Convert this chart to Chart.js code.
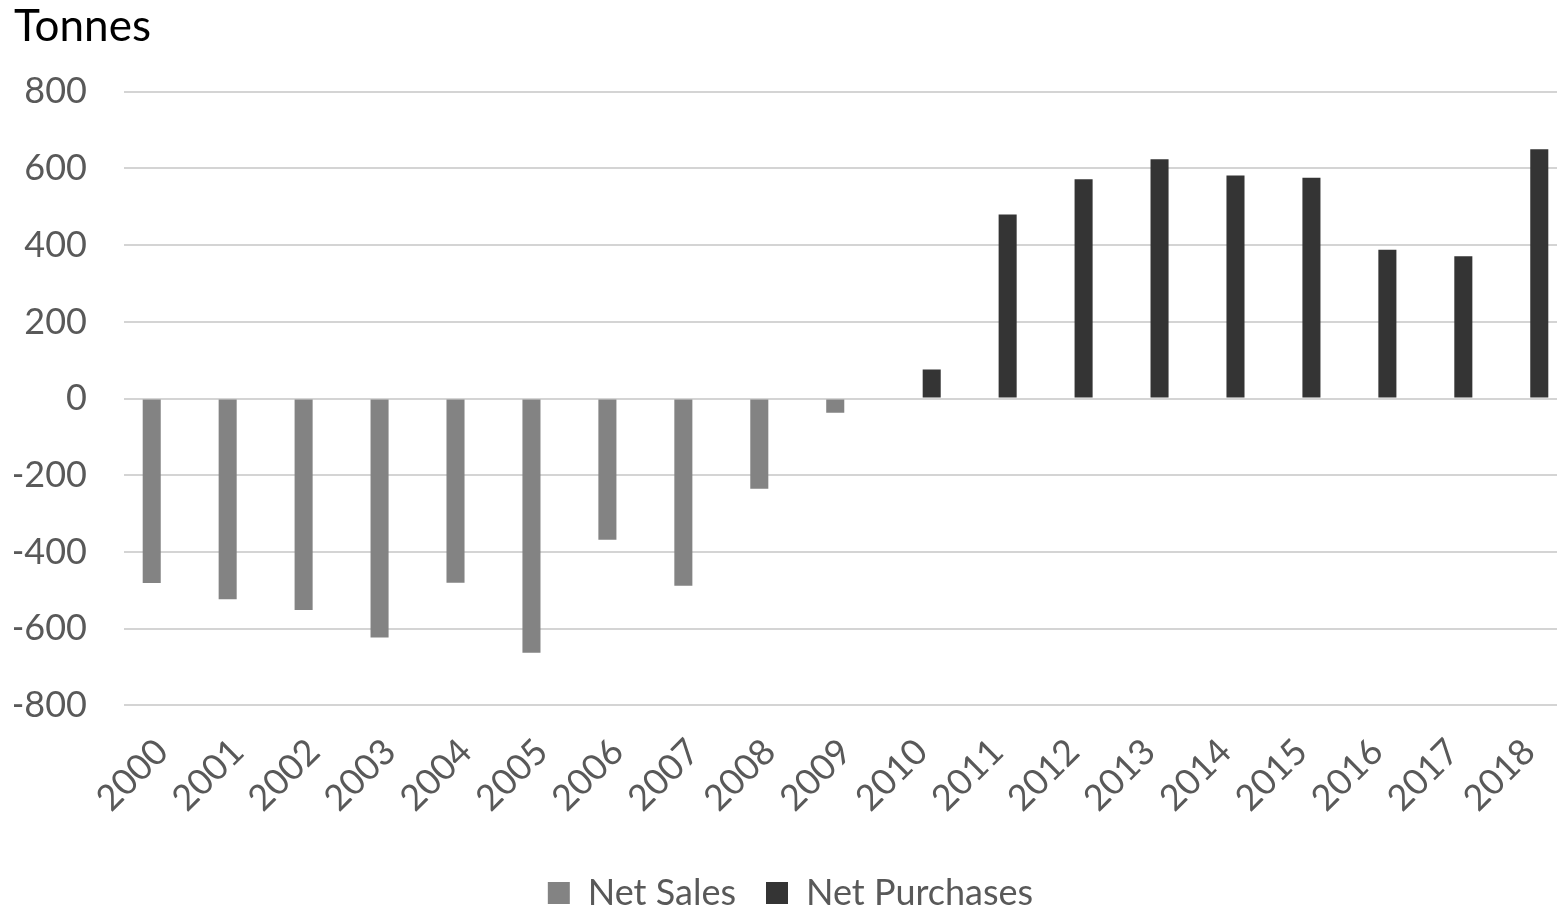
<!DOCTYPE html>
<html>
<head>
<meta charset="utf-8">
<script src="https://cdn.jsdelivr.net/npm/chart.js@4/dist/chart.umd.min.js"></script>
<style>
  html, body { margin: 0; padding: 0; background: #fff; overflow: hidden; }
  #wrap { width: 1567px; height: 910px; }
</style>
</head>
<body>
<div id="wrap"><canvas id="c" width="1567" height="910"></canvas></div>
<script>
// Annual net central-bank gold flows, tonnes
const years = ['2000','2001','2002','2003','2004','2005','2006','2007','2008','2009',
               '2010','2011','2012','2013','2014','2015','2016','2017','2018'];
const netSales = [-481, -523, -551, -623, -480, -663, -368, -488, -235, -37,
                  null, null, null, null, null, null, null, null, null];
const netPurchases = [null, null, null, null, null, null, null, null, null, null,
                      76, 480, 572, 624, 582, 576, 388, 371, 650];
const yTicks = [-800, -600, -400, -200, 0, 200, 400, 600, 800];

const FONT = 'Lato, "Open Sans", sans-serif';

new Chart(document.getElementById('c'), {
  type: 'bar',
  data: {
    labels: years,
    datasets: [
      { label: 'Net Sales', data: netSales, backgroundColor: '#838383',
        categoryPercentage: 0.54, barPercentage: 0.88 },
      { label: 'Net Purchases', data: netPurchases, backgroundColor: '#343434',
        categoryPercentage: 0.54, barPercentage: 0.88 }
    ]
  },
  options: {
    responsive: false,
    animation: false,
    layout: { padding: { left: 14, right: 0, top: 0, bottom: -11 } },
    plugins: {
      tooltip: { enabled: false },
      title: {
        display: true,
        text: 'Tonnes',
        align: 'start',
        color: '#000',
        font: { family: FONT, size: 44, weight: 'normal' },
        padding: { top: 0, bottom: 39 }
      },
      legend: {
        position: 'bottom',
        labels: {
          color: '#595959',
          font: { family: FONT, size: 36 },
          boxWidth: 22,
          boxHeight: 22,
          padding: 30
        }
      }
    },
    scales: {
      x: {
        grid: { display: false, drawTicks: false },
        border: { display: false },
        // rotated labels stay inside the plot width, no side padding needed
        afterFit: (s) => { s.paddingLeft = 0; s.paddingRight = 0; },
        ticks: {
          color: '#595959',
          font: { family: FONT, size: 36 },
          maxRotation: 45, minRotation: 45,
          padding: 25,
          autoSkip: false
        }
      },
      y: {
        min: -800, max: 800,
        afterBuildTicks: (s) => { s.ticks = yTicks.map(v => ({ value: v })); },
        afterFit: (s) => { s.width = 110; },
        grid: { color: '#d4d4d4', lineWidth: 2, drawTicks: false },
        border: { display: false },
        ticks: {
          color: '#595959',
          font: { family: FONT, size: 36 },
          padding: 37
        }
      }
    }
  }
});
</script>
</body>
</html>
